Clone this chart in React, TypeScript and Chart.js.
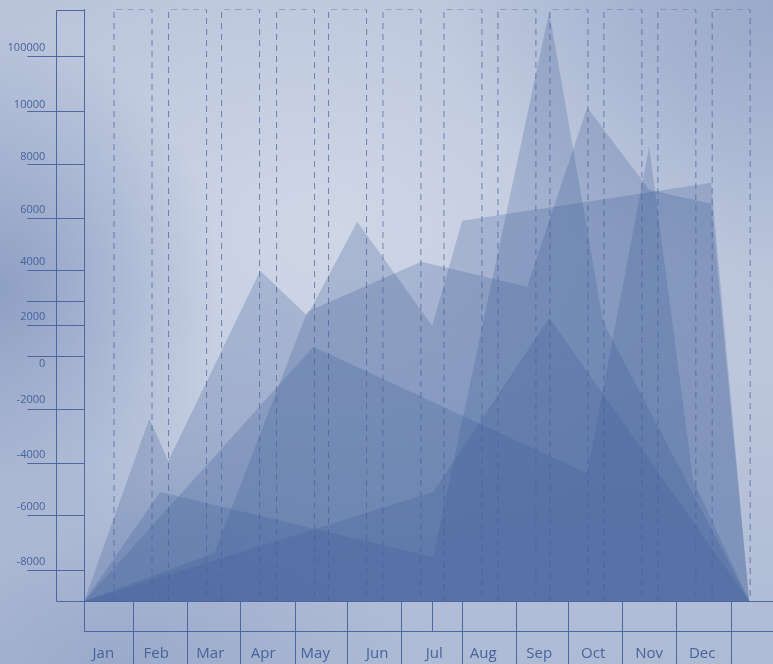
import React, { useEffect, useRef } from "react";
import { Chart, registerables } from "chart.js";

Chart.register(...registerables);

// ---- data ----
const months = ["Jan", "Feb", "Mar", "Apr", "May", "Jun", "Jul", "Aug", "Sep", "Oct", "Nov", "Dec"];
// month boundary ticks on the x axis (month units)
const monthBoundaries = [0, 0.904, 1.916, 2.9, 3.92, 4.885, 5.894, 7.026, 8.028, 8.993, 9.994, 10.996, 12.004];
const monthLabelAt = [0.353, 1.336, 2.338, 3.321, 4.286, 5.436, 6.494, 7.403, 8.442, 9.443, 10.482, 11.465];
const extraTick = 6.456;

const X_MIN = 0;
const X_MAX = 12.78;
const Y_MIN = -9160;
const Y_MAX = 13000;

const yGridValues = [11239, 9176, 7189, 5164, 3214, 2051, 1151, 0, -2000, -4024, -5974, -8000];
const yTickLabels = ["100000", "10000", "8000", "6000", "4000", "2000", "0", "-2000", "-4000", "-6000", "-8000"];
const yLabelValues = [11576, 9439, 7489, 5483, 3551, 1470, -274, -1643, -3686, -5624, -7680];

const s1X = [0, 1.206, 1.558, 3.265, 4.137, 5.065, 6.456, 7.013, 11.633, 12.338];
const s1Y = [-9160, -2336, -3911, 3214, 1526, 5051, 1151, 5089, 6514, -9160];
const s2X = [0, 2.412, 4.137, 6.252, 8.219, 9.332, 10.482, 11.633, 12.338];
const s2Y = [-9160, -7361, 1676, 3551, 2614, 9326, 6251, 5726, -9160];
const s3X = [0, 4.249, 9.332, 10.482, 11.299, 12.338];
const s3Y = [-9160, 364, -4376, 7864, -4624, -9160];
const s4X = [0, 1.41, 6.475, 8.627, 9.629, 12.338];
const s4Y = [-9160, -5074, -7511, 12926, 1301, -9160];
const s5X = [0, 6.475, 8.627, 12.338];
const s5Y = [-9160, -5074, 1451, -9160];

// ---- styles ----
const LINE = "rgba(74,98,160,0.95)";
const TEXT = "rgb(72,98,156)";
const AREA = "rgba(60,90,150,0.25)";
const DASH = "rgba(72,96,155,0.7)";
const BOX_HALF = 0.3525;
const Y_BOX_W = 28.6;
const X_BOX_H = 30;

const zip = (xs: number[], ys: number[]) => xs.map((x, i) => ({ x, y: ys[i] }));

const noPad = (s: any) => {
  s.paddingTop = 0;
  s.paddingBottom = 0;
  s.paddingLeft = 0;
  s.paddingRight = 0;
};

const framePlugin = {
  id: "frame",
  afterDraw(chart: any) {
    const { ctx, chartArea } = chart;
    const xs = chart.scales.x;
    const r = (v: number) => Math.round(v) + 0.5;
    const { left, right, top, bottom } = chartArea;
    ctx.save();
    ctx.strokeStyle = LINE;
    ctx.lineWidth = 1;
    ctx.beginPath();
    const bx = r(left - Y_BOX_W);
    ctx.moveTo(bx, r(bottom));
    ctx.lineTo(bx, r(top));
    ctx.lineTo(r(left), r(top));
    ctx.moveTo(bx, r(bottom));
    ctx.lineTo(r(left), r(bottom));
    ctx.moveTo(r(left), r(bottom));
    ctx.lineTo(r(left), r(bottom + X_BOX_H));
    ctx.lineTo(right, r(bottom + X_BOX_H));
    const ex = r(xs.getPixelForValue(extraTick));
    ctx.moveTo(ex, r(bottom));
    ctx.lineTo(ex, r(bottom + X_BOX_H));
    ctx.stroke();
    ctx.restore();
  },
};

export default function App() {
  const ref = useRef<HTMLCanvasElement | null>(null);

  useEffect(() => {
    if (!ref.current) return;
    const boxData: any[] = [];
    monthBoundaries.slice(1).forEach((c) => {
      boxData.push({ x: c - BOX_HALF, y: Y_MIN });
      boxData.push({ x: c - BOX_HALF, y: Y_MAX });
      boxData.push({ x: c + BOX_HALF, y: Y_MAX });
      boxData.push({ x: c + BOX_HALF, y: Y_MIN });
      boxData.push({ x: c + BOX_HALF, y: null });
    });
    const area = (xs: number[], ys: number[], label: string) => ({
      type: "line" as const,
      label,
      data: zip(xs, ys),
      fill: "start",
      backgroundColor: AREA,
      borderWidth: 0,
      borderColor: "rgba(0,0,0,0)",
      pointRadius: 0,
      tension: 0,
      order: 1,
    });
    const chart = new Chart(ref.current, {
      type: "line",
      data: {
        datasets: [
          {
            label: "months",
            data: boxData,
            borderColor: DASH,
            borderWidth: 1,
            borderDash: [6, 5],
            fill: false,
            pointRadius: 0,
            spanGaps: false,
            order: 0,
          } as any,
          area(s1X, s1Y, "A"),
          area(s2X, s2Y, "B"),
          area(s3X, s3Y, "C"),
          area(s4X, s4Y, "D"),
          area(s5X, s5Y, "E"),
        ],
      },
      options: {
        animation: false,
        responsive: true,
        maintainAspectRatio: false,
        events: [],
        layout: { padding: { top: 9.5, left: 0, right: 0, bottom: 0 } },
        plugins: { legend: { display: false }, tooltip: { enabled: false } },
        scales: {
          x: {
            type: "linear",
            position: "bottom",
            min: X_MIN,
            max: X_MAX,
            afterBuildTicks: (s: any) => {
              s.ticks = monthBoundaries.slice(1).map((v) => ({ value: v }));
            },
            afterFit: (s: any) => {
              s.height = 0;
              noPad(s);
            },
            ticks: { display: false },
            grid: { drawOnChartArea: false, drawTicks: true, tickLength: 63, color: LINE, lineWidth: 1 },
            border: { display: true, color: LINE, width: 1 },
          },
          xl: {
            type: "linear",
            position: "bottom",
            min: X_MIN,
            max: X_MAX,
            afterBuildTicks: (s: any) => {
              s.ticks = monthLabelAt.map((v) => ({ value: v }));
            },
            afterFit: (s: any) => {
              s.height = 63;
              noPad(s);
            },
            ticks: {
              autoSkip: false,
              maxRotation: 0,
              padding: 44,
              color: TEXT,
              font: { family: "'Open Sans', sans-serif", size: 15 },
              callback: (_v: any, i: number) => months[i],
            },
            grid: { display: false, drawTicks: false },
            border: { display: false },
          },
          y: {
            type: "linear",
            position: "left",
            min: Y_MIN,
            max: Y_MAX,
            afterBuildTicks: (s: any) => {
              s.ticks = yGridValues.map((v) => ({ value: v }));
            },
            afterFit: (s: any) => {
              s.width = 0;
              noPad(s);
            },
            ticks: { display: false },
            grid: { drawOnChartArea: false, drawTicks: true, tickLength: 57, color: LINE, lineWidth: 1 },
            border: { display: true, color: LINE, width: 1 },
          },
          yl: {
            type: "linear",
            position: "left",
            min: Y_MIN,
            max: Y_MAX,
            afterBuildTicks: (s: any) => {
              s.ticks = yLabelValues.map((v) => ({ value: v }));
            },
            afterFit: (s: any) => {
              s.width = 84.3;
              noPad(s);
            },
            ticks: {
              autoSkip: false,
              padding: 39,
              color: TEXT,
              font: { family: "'Open Sans', sans-serif", size: 11 },
              callback: (_v: any, i: number) => yTickLabels[i],
            },
            grid: { display: false, drawTicks: false },
            border: { display: false },
          },
        },
      } as any,
      plugins: [framePlugin],
    });
    return () => chart.destroy();
  }, []);

  return (
    <div
      style={{
        position: "fixed",
        left: 0,
        top: 0,
        width: 773,
        height: 664,
        background:
          "radial-gradient(ellipse 220px 260px at 0px 290px, rgba(125,145,188,0.75), rgba(125,145,188,0) 100%)," +
          "radial-gradient(ellipse 330px 260px at 773px 10px, rgba(135,152,192,0.6), rgba(135,152,192,0) 100%)," +
          "radial-gradient(ellipse 420px 330px at 330px 230px, rgba(212,219,233,0.8), rgba(212,219,233,0) 100%)," +
          "radial-gradient(ellipse 300px 200px at 120px 664px, rgba(140,158,195,0.6), rgba(140,158,195,0) 100%)," +
          "linear-gradient(180deg, #b8c3da 0%, #bcc6dc 55%, #aebbd5 100%)",
      }}
    >
      <canvas ref={ref} style={{ display: "block", width: "100%", height: "100%" }} />
    </div>
  );
}
